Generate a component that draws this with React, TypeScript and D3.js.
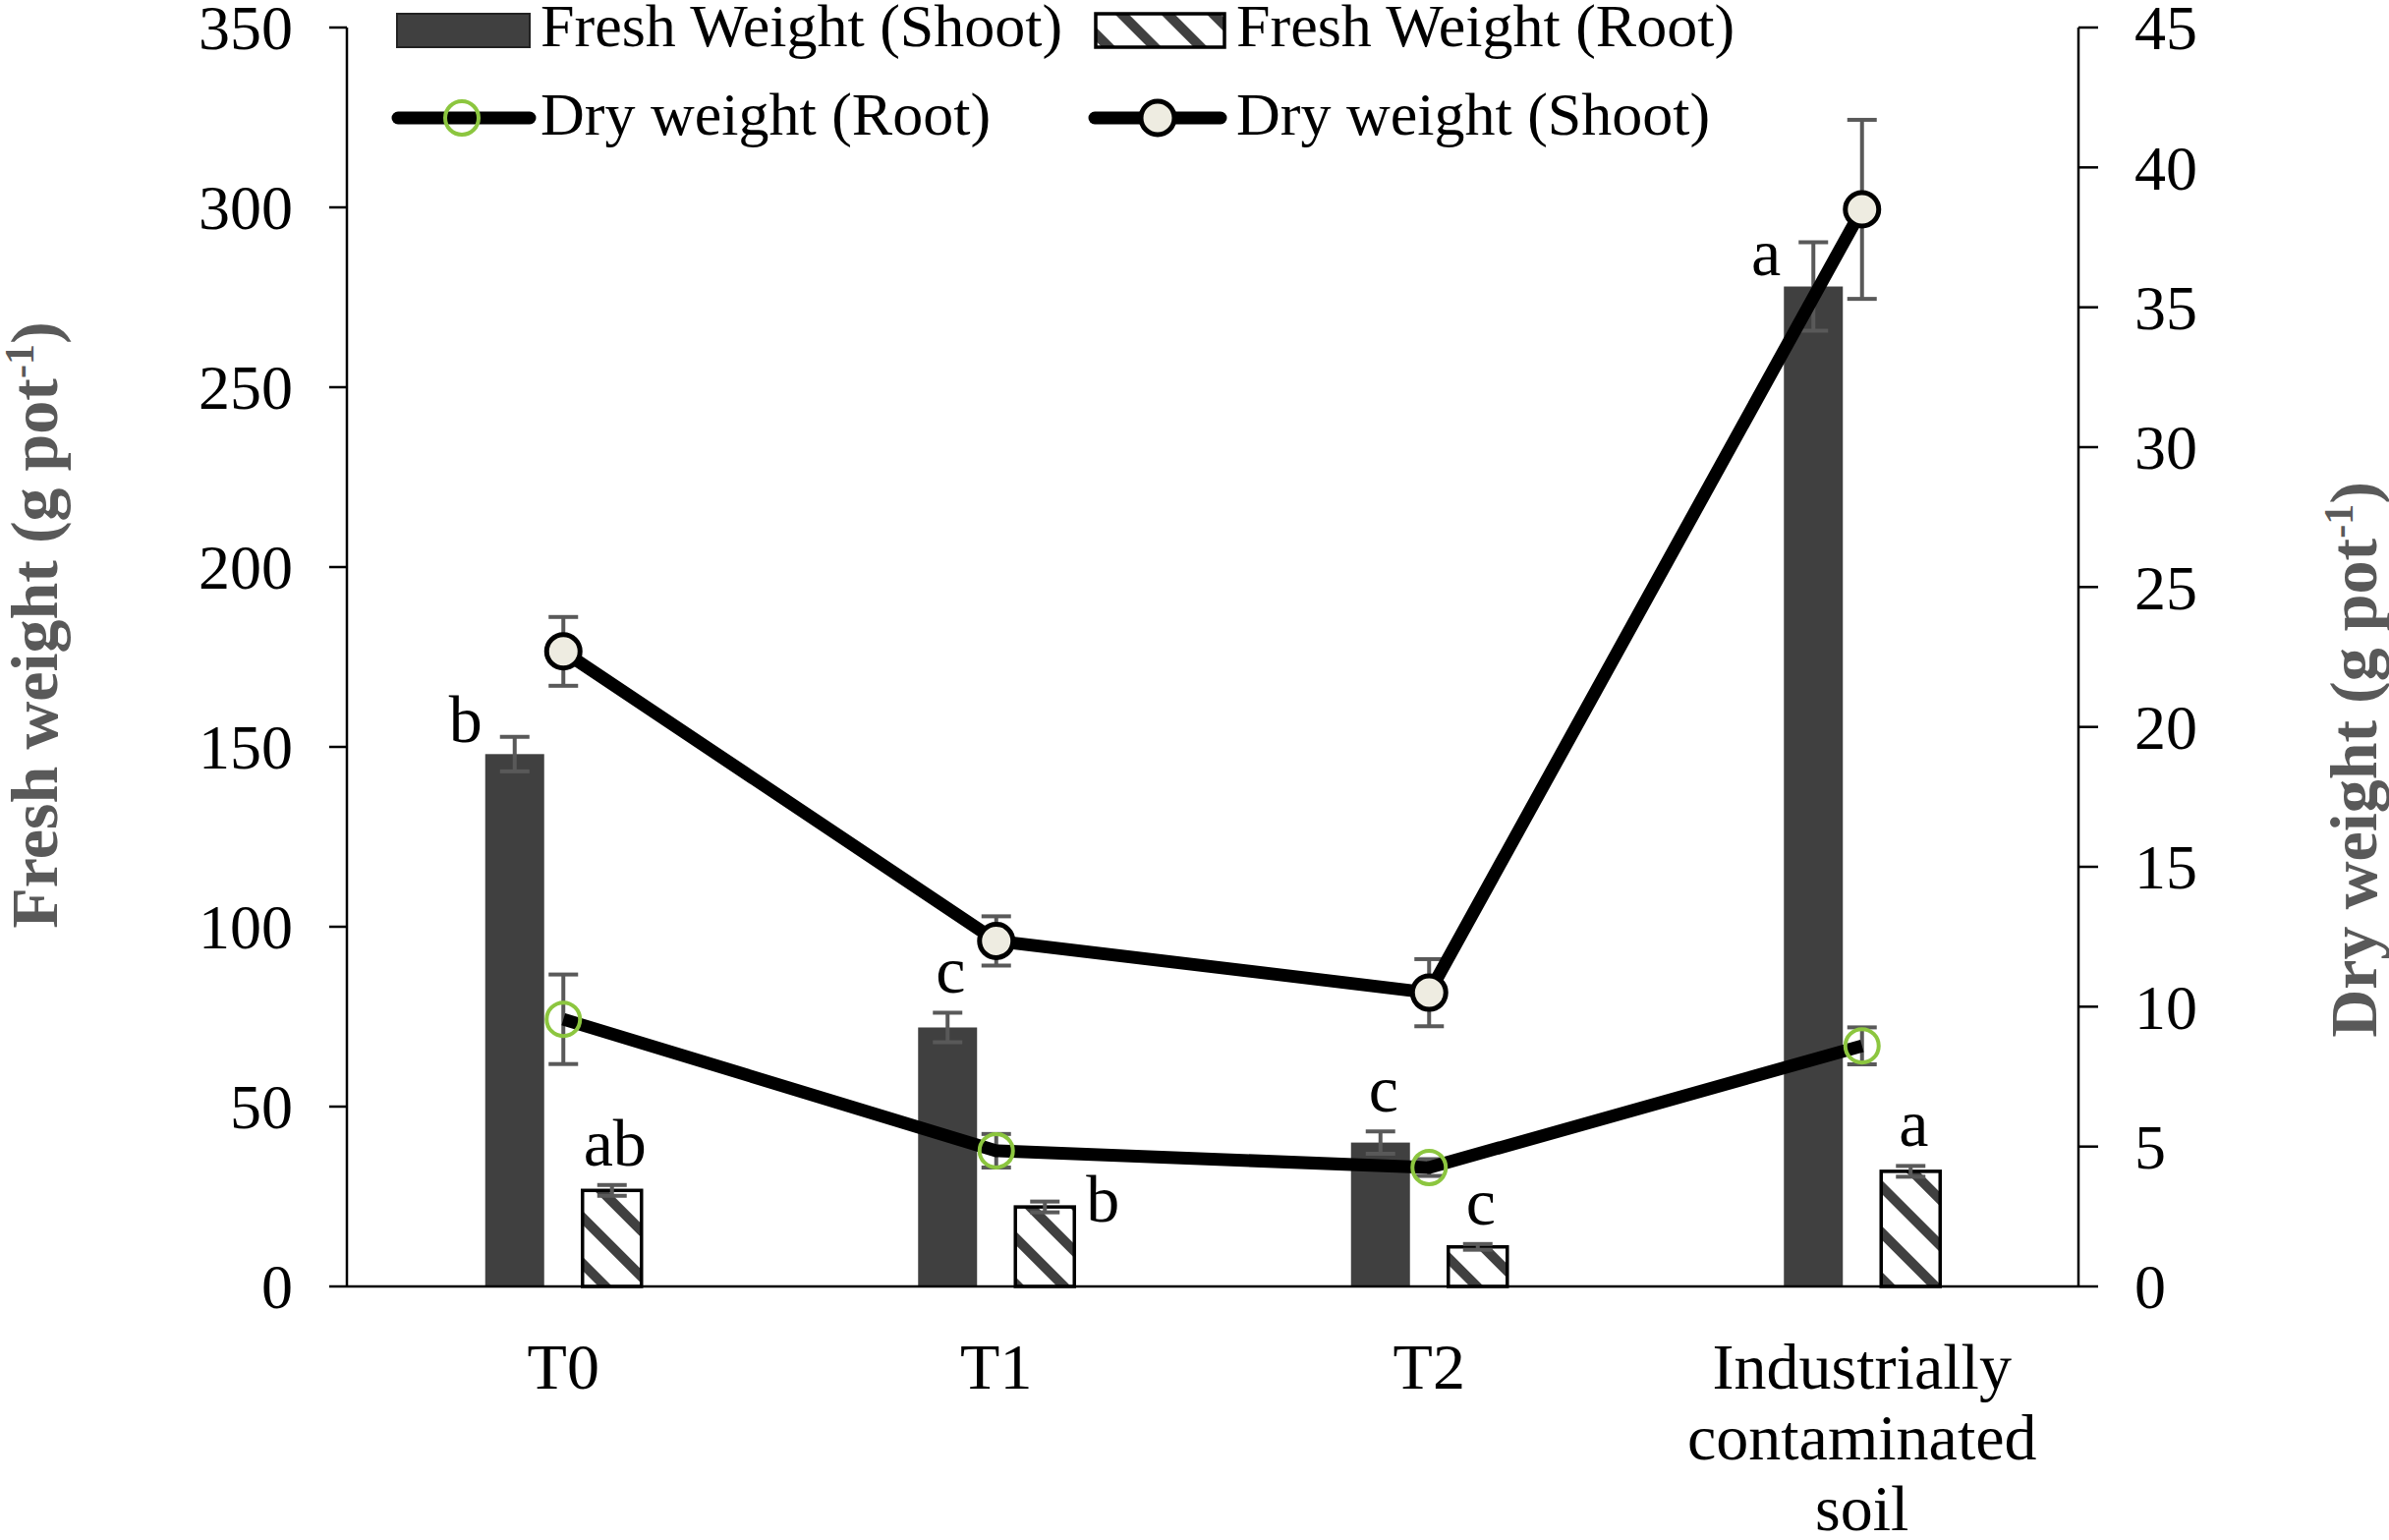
import React from 'react';
import * as d3 from 'd3';

const categories = ['T0', 'T1', 'T2', 'Industrially contaminated soil'];
const categoryLabelLines = [['T0'], ['T1'], ['T2'], ['Industrially', 'contaminated', 'soil']];

const freshShoot = [148, 72, 40, 278];
const freshShootErr = [4.8, 4.1, 3.1, 12.3];
const freshRoot = [26.7, 22.1, 11.0, 32.0];
const freshRootErr = [1.5, 1.5, 0.8, 1.5];

const dryShoot = [22.7, 12.35, 10.5, 38.5];
const dryShootErr = [1.23, 0.88, 1.2, 3.2];
const dryRoot = [9.55, 4.85, 4.25, 8.6];
const dryRootErr = [1.6, 0.6, 0.3, 0.66];

const shootLetters = ['b', 'c', 'c', 'a'];
const rootLetters = ['ab', 'b', 'c', 'a'];
const shootLetterPlace = ['left', 'above', 'above', 'left'];
const rootLetterPlace = ['above', 'right', 'above', 'above'];

const leftTicks = [0, 50, 100, 150, 200, 250, 300, 350];
const rightTicks = [0, 5, 10, 15, 20, 25, 30, 35, 40, 45];

const W = 2431;
const H = 1567;
const X0 = 353;
const X1 = 2115;
const Y0 = 1309;
const Y1 = 28;

const SERIF = '"Liberation Serif", "Times New Roman", serif';
const BAR = '#404040';
const ERR = '#595959';
const GREEN = '#8CC63F';
const CREAM = '#EEECE1';

export default function App() {
  const x = d3.scaleBand<string>().domain(categories).range([X0, X1]).padding(0);
  const inner = d3.scaleBand<string>().domain(['shoot', 'root']).range([-79.5, 79.5]).paddingInner(0.394);
  const yL = d3.scaleLinear().domain([0, 350]).range([Y0, Y1]);
  const yR = d3.scaleLinear().domain([0, 45]).range([Y0, Y1]);
  const bw = inner.bandwidth();
  const cx = (c: string) => (x(c) as number) + x.bandwidth() / 2;

  const line = d3.line<number>()
    .x((_, i) => cx(categories[i]))
    .y((d) => yR(d));

  const errBar = (key: string, xc: number, yTop: number, yBot: number) => (
    <g key={key} stroke={ERR} strokeWidth={4}>
      <line x1={xc} x2={xc} y1={yTop} y2={yBot} />
      <line x1={xc - 15} x2={xc + 15} y1={yTop} y2={yTop} />
      <line x1={xc - 15} x2={xc + 15} y1={yBot} y2={yBot} />
    </g>
  );

  const letterEl = (key: string, txt: string, place: string, bx: number, top: number, errTop: number) => {
    if (place === 'left') {
      return <text key={key} x={bx - 3} y={top - 12} textAnchor="end" fontSize={68} fontFamily={SERIF}>{txt}</text>;
    }
    if (place === 'right') {
      return <text key={key} x={bx + bw + 12} y={top + 15} textAnchor="start" fontSize={68} fontFamily={SERIF}>{txt}</text>;
    }
    return <text key={key} x={bx + bw / 2 + 3} y={errTop - 20} textAnchor="middle" fontSize={68} fontFamily={SERIF}>{txt}</text>;
  };

  return (
    <svg width={W} height={H} style={{ position: 'absolute', left: 0, top: 0, background: '#fff' }}>
      <defs>
        <pattern id="hatch" patternUnits="userSpaceOnUse" width={33} height={33} patternTransform="rotate(-45)">
          <rect x={0} y={0} width={33} height={33} fill="#fff" />
          <rect x={0} y={0} width={10} height={33} fill={BAR} />
        </pattern>
      </defs>
      <rect x={0} y={0} width={W} height={H} fill="#fff" />

      {/* bars */}
      {categories.map((c, i) => {
        const bxS = cx(c) + (inner('shoot') as number);
        const bxR = cx(c) + (inner('root') as number);
        return (
          <g key={'bars' + i}>
            <rect x={bxS} y={yL(freshShoot[i])} width={bw} height={Y0 - yL(freshShoot[i])} fill={BAR} />
            <rect x={bxR} y={yL(freshRoot[i])} width={bw} height={Y0 - yL(freshRoot[i])} fill="url(#hatch)" stroke="#000" strokeWidth={3.5} />
          </g>
        );
      })}

      {/* bar error bars */}
      {categories.map((c, i) => {
        const bxS = cx(c) + (inner('shoot') as number);
        const bxR = cx(c) + (inner('root') as number);
        return (
          <g key={'be' + i}>
            {errBar('s' + i, bxS + bw / 2, yL(freshShoot[i] + freshShootErr[i]), yL(freshShoot[i] - freshShootErr[i]))}
            {errBar('r' + i, bxR + bw / 2, yL(freshRoot[i] + freshRootErr[i]), yL(freshRoot[i] - freshRootErr[i]))}
          </g>
        );
      })}

      {/* axes */}
      <g stroke="#000" strokeWidth={2.5}>
        <line x1={X0} x2={X0} y1={Y1} y2={Y0} />
        <line x1={X1} x2={X1} y1={Y1} y2={Y0} />
        <line x1={X0} x2={X1} y1={Y0} y2={Y0} />
        {leftTicks.map((t) => (
          <line key={'lt' + t} x1={X0 - 18} x2={X0} y1={yL(t)} y2={yL(t)} />
        ))}
        {rightTicks.map((t) => (
          <line key={'rt' + t} x1={X1} x2={X1 + 20} y1={yR(t)} y2={yR(t)} />
        ))}
      </g>
      <g fontFamily={SERIF} fontSize={64} fill="#000">
        {leftTicks.map((t) => (
          <text key={'ll' + t} x={298} y={yL(t)} dy="0.35em" textAnchor="end">{t}</text>
        ))}
        {rightTicks.map((t) => (
          <text key={'rl' + t} x={2172} y={yR(t)} dy="0.35em" textAnchor="start">{t}</text>
        ))}
        {categories.map((c, i) => (
          <text key={'xl' + i} x={cx(c)} y={1413} textAnchor="middle" fontSize={66}>
            {categoryLabelLines[i].map((ln, j) => (
              <tspan key={j} x={cx(c)} dy={j === 0 ? 0 : 72}>{ln}</tspan>
            ))}
          </text>
        ))}
      </g>

      {/* axis titles */}
      <text transform="translate(58,636) rotate(-90)" textAnchor="middle" fontFamily={SERIF} fontWeight="bold" fontSize={68} fill={ERR}>
        Fresh weight (g pot<tspan dy={-24} fontSize={42}>-1</tspan><tspan dy={24}>)</tspan>
      </text>
      <text transform="translate(2418,773) rotate(-90)" textAnchor="middle" fontFamily={SERIF} fontWeight="bold" fontSize={68} fill={ERR}>
        Dry weight (g pot<tspan dy={-24} fontSize={42}>-1</tspan><tspan dy={24}>)</tspan>
      </text>

      {/* line error bars */}
      {categories.map((c, i) => (
        <g key={'le' + i}>
          {errBar('ds' + i, cx(c), yR(dryShoot[i] + dryShootErr[i]), yR(dryShoot[i] - dryShootErr[i]))}
          {errBar('dr' + i, cx(c), yR(dryRoot[i] + dryRootErr[i]), yR(dryRoot[i] - dryRootErr[i]))}
        </g>
      ))}

      {/* lines */}
      <path d={line(dryShoot) || ''} fill="none" stroke="#000" strokeWidth={13} strokeLinejoin="round" />
      <path d={line(dryRoot) || ''} fill="none" stroke="#000" strokeWidth={13} strokeLinejoin="round" />
      {categories.map((c, i) => (
        <g key={'mk' + i}>
          <circle cx={cx(c)} cy={yR(dryShoot[i])} r={17} fill={CREAM} stroke="#000" strokeWidth={5} />
          <circle cx={cx(c)} cy={yR(dryRoot[i])} r={17} fill="none" stroke={GREEN} strokeWidth={4} />
        </g>
      ))}

      {/* letters */}
      {categories.map((c, i) => {
        const bxS = cx(c) + (inner('shoot') as number);
        const bxR = cx(c) + (inner('root') as number);
        return (
          <g key={'lt' + i} fill="#000">
            {letterEl('ls' + i, shootLetters[i], shootLetterPlace[i], bxS, yL(freshShoot[i]), yL(freshShoot[i] + freshShootErr[i]))}
            {letterEl('lr' + i, rootLetters[i], rootLetterPlace[i], bxR, yL(freshRoot[i]), yL(freshRoot[i] + freshRootErr[i]))}
          </g>
        );
      })}

      {/* legend */}
      <g fontFamily={SERIF} fontSize={62} fill="#000">
        <rect x={404} y={14} width={135} height={34} fill={BAR} stroke="#222" strokeWidth={2} />
        <text x={550} y={47}>Fresh Weight (Shoot)</text>
        <rect x={1115} y={14} width={131} height={34} fill="url(#hatch)" stroke="#000" strokeWidth={3.5} />
        <text x={1258} y={47}>Fresh Weight (Root)</text>

        <line x1={405} x2={539} y1={120} y2={120} stroke="#000" strokeWidth={13} strokeLinecap="round" />
        <circle cx={470} cy={120} r={17} fill="none" stroke={GREEN} strokeWidth={4} />
        <text x={550} y={137}>Dry weight (Root)</text>
        <line x1={1114} x2={1242} y1={120} y2={120} stroke="#000" strokeWidth={13} strokeLinecap="round" />
        <circle cx={1178} cy={120} r={17} fill={CREAM} stroke="#000" strokeWidth={5} />
        <text x={1258} y={137}>Dry weight (Shoot)</text>
      </g>
    </svg>
  );
}
